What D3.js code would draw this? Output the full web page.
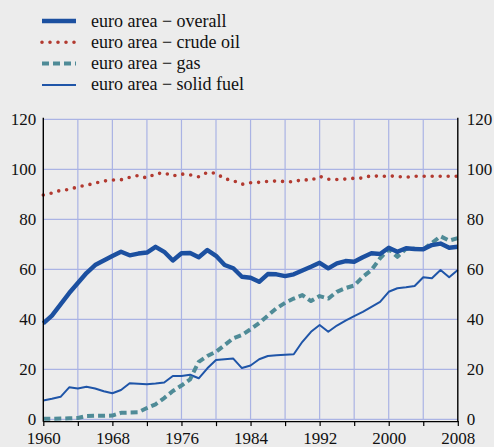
<!DOCTYPE html>
<html><head><meta charset="utf-8">
<script src="https://cdn.jsdelivr.net/npm/d3@7"></script>
<style>
html,body{margin:0;padding:0;background:#ececec;}
svg{display:block;}
text{font-family:"Liberation Serif","Times New Roman",serif;fill:#111;}
</style></head>
<body>
<svg id="chart" width="494" height="447"></svg>
<script>
const years = d3.range(1960, 2009);
const overall = [38.4,41.5,46,50.5,54.5,58.5,61.7,63.5,65.3,67,65.6,66.3,66.7,69,67,63.5,66.4,66.5,64.8,67.7,65.4,61.7,60.4,57,56.6,55,58.1,58,57.3,58,59.5,61,62.6,60.4,62.4,63.3,63,64.8,66.4,66.1,68.6,67,68.4,68.1,68,69.7,70.3,68.6,69];
const crudeOil = [89.7,90.5,91.6,91.9,93,93.6,94.5,95.3,95.7,95.8,96.8,97.5,96.5,98.2,98.6,97.3,98.1,97.8,97,98.8,98.4,96.2,95.5,94,94.6,94.8,95.2,95.3,95.1,95,95.9,95.6,97.2,96,95.9,96.1,96.4,96.5,97.5,97.1,97.4,97.1,96.8,97.2,97.2,97.2,97.2,97.2,97.2];
const gas = [0.2,0.2,0.3,0.4,0.5,1.3,1.4,1.4,1.5,2.6,2.7,2.8,4.5,6,8.5,11.3,13.5,16,23,25.3,27,29.7,32.4,33.7,36,38.5,41.5,44.4,46.6,48.3,49.7,47.3,49.3,48.3,51,52.5,53.5,57,59.7,64.4,68,65,68.2,68.2,68,70.5,73.2,71.5,72.5];
const solidFuel = [7.5,8.2,9,12.8,12.3,13,12.3,11.2,10.4,11.7,14.4,14.2,14,14.3,14.7,17.3,17.3,17.8,16.4,20.4,23.7,24,24.3,20.5,21.5,24,25.3,25.6,25.8,26,31,35,37.7,35,37.5,39.5,41.3,43,45,47,51,52.4,52.8,53.3,56.8,56.4,59.7,56.8,59.7];
const xTicks = d3.range(1960, 2009, 4);
const xTickLabels = [1960,1968,1976,1984,1992,2000,2008];
const yTicks = [0,20,40,60,80,100,120];
const seriesNames = ["euro area \u2212 overall","euro area \u2212 crude oil","euro area \u2212 gas","euro area \u2212 solid fuel"];

const svg = d3.select("#chart");
const x = d3.scaleLinear().domain([1960, 2008]).range([43.3, 457.8]);
const y = d3.scaleLinear().domain([0, 120]).range([419.3, 119.3]);

const styles = [
  {data: overall, color:"#1c50a0", width:4.4, dash:null, cap:"butt"},
  {data: crudeOil, color:"#b23a30", width:3.6, dash:"0,8", cap:"round"},
  {data: gas, color:"#4f8b97", width:4, dash:"7,4", cap:"butt"},
  {data: solidFuel, color:"#1f55a8", width:2, dash:null, cap:"butt"}
];

// grid
const grid = svg.append("g").attr("stroke","#aab3e4").attr("stroke-width",1.2);
grid.selectAll("line.h").data(yTicks).join("line")
  .attr("x1", x(1960)).attr("x2", x(2008)).attr("y1", d=>y(d)).attr("y2", d=>y(d));
grid.selectAll("line.v").data(xTicks.slice(1, -1)).join("line")
  .attr("x1", d=>x(d)).attr("x2", d=>x(d)).attr("y1", y(120)).attr("y2", y(0));

// series
const line = d3.line().x((d,i)=>x(years[i])).y(d=>y(d));
const order = [3,2,0,1];
order.forEach(k=>{
  const s = styles[k];
  svg.append("path").datum(s.data).attr("d", line)
    .attr("fill","none").attr("stroke", s.color).attr("stroke-width", s.width)
    .attr("stroke-dasharray", s.dash).attr("stroke-linecap", s.cap).attr("stroke-linejoin","round");
});

// axes
const axG = svg.append("g").attr("stroke","#000").attr("stroke-width",1.4);
axG.append("line").attr("x1", x(1960)).attr("x2", x(1960)).attr("y1", y(120)-1.5).attr("y2", y(0)+2.5);
axG.append("line").attr("x1", x(2008)).attr("x2", x(2008)).attr("y1", y(120)-1.5).attr("y2", y(0)+2.5);
const bottom = svg.append("g").attr("transform", `translate(0,${y(0)+1.8})`)
  .call(d3.axisBottom(x).tickValues(xTicks)
    .tickFormat(d => xTickLabels.includes(d) ? String(d) : "")
    .tickSize(5).tickSizeOuter(0).tickPadding(6));
bottom.select(".domain").attr("stroke","#000").attr("stroke-width",1.4);
bottom.selectAll(".tick line").attr("stroke","#000").attr("stroke-width",1.2);
bottom.selectAll("text").style("font-size","17px").attr("fill","#111");

const left = svg.append("g").attr("transform", `translate(${x(1960)},0)`)
  .call(d3.axisLeft(y).tickValues(yTicks).tickSize(0).tickPadding(7));
left.select(".domain").remove();
left.selectAll("text").style("font-size","17px").attr("fill","#111");
const right = svg.append("g").attr("transform", `translate(${x(2008)},0)`)
  .call(d3.axisRight(y).tickValues(yTicks).tickSize(0).tickPadding(9));
right.select(".domain").remove();
right.selectAll("text").style("font-size","17px").attr("fill","#111");

// legend
const leg = svg.append("g");
seriesNames.forEach((name,i)=>{
  const s = styles[i];
  const cy = 21 + i*21.3;
  leg.append("line").attr("x1", 42).attr("x2", 76).attr("y1", cy).attr("y2", cy)
    .attr("stroke", s.color).attr("stroke-width", s.width).attr("stroke-dasharray", s.dash)
    .attr("stroke-linecap", s.cap);
  leg.append("text").attr("x", 91).attr("y", cy+5.5).style("font-size","18px").text(name);
});
</script>
</body></html>
